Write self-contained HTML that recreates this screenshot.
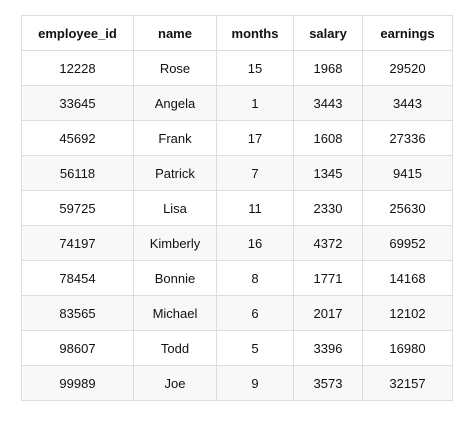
<!DOCTYPE html>
<html><head><meta charset="utf-8"><style>
body{margin:0;background:#fff;width:473px;height:428px;overflow:hidden}
table{position:absolute;left:21px;top:15px;border-collapse:collapse;font-family:"Liberation Sans",sans-serif;font-size:13px;color:#111}
td,th{border:1px solid #ddd;text-align:center;padding:0;height:34px}
th{font-weight:bold}
tbody tr:nth-child(even) td{background:#f8f8f8}
</style></head><body>
<table>
<colgroup><col style="width:112px"><col style="width:83px"><col style="width:77px"><col style="width:69px"><col style="width:90px"></colgroup>
<thead><tr><th>employee_id</th><th>name</th><th>months</th><th>salary</th><th>earnings</th></tr></thead>
<tbody>
<tr><td>12228</td><td>Rose</td><td>15</td><td>1968</td><td>29520</td></tr>
<tr><td>33645</td><td>Angela</td><td>1</td><td>3443</td><td>3443</td></tr>
<tr><td>45692</td><td>Frank</td><td>17</td><td>1608</td><td>27336</td></tr>
<tr><td>56118</td><td>Patrick</td><td>7</td><td>1345</td><td>9415</td></tr>
<tr><td>59725</td><td>Lisa</td><td>11</td><td>2330</td><td>25630</td></tr>
<tr><td>74197</td><td>Kimberly</td><td>16</td><td>4372</td><td>69952</td></tr>
<tr><td>78454</td><td>Bonnie</td><td>8</td><td>1771</td><td>14168</td></tr>
<tr><td>83565</td><td>Michael</td><td>6</td><td>2017</td><td>12102</td></tr>
<tr><td>98607</td><td>Todd</td><td>5</td><td>3396</td><td>16980</td></tr>
<tr><td>99989</td><td>Joe</td><td>9</td><td>3573</td><td>32157</td></tr>
</tbody></table>
</body></html>
